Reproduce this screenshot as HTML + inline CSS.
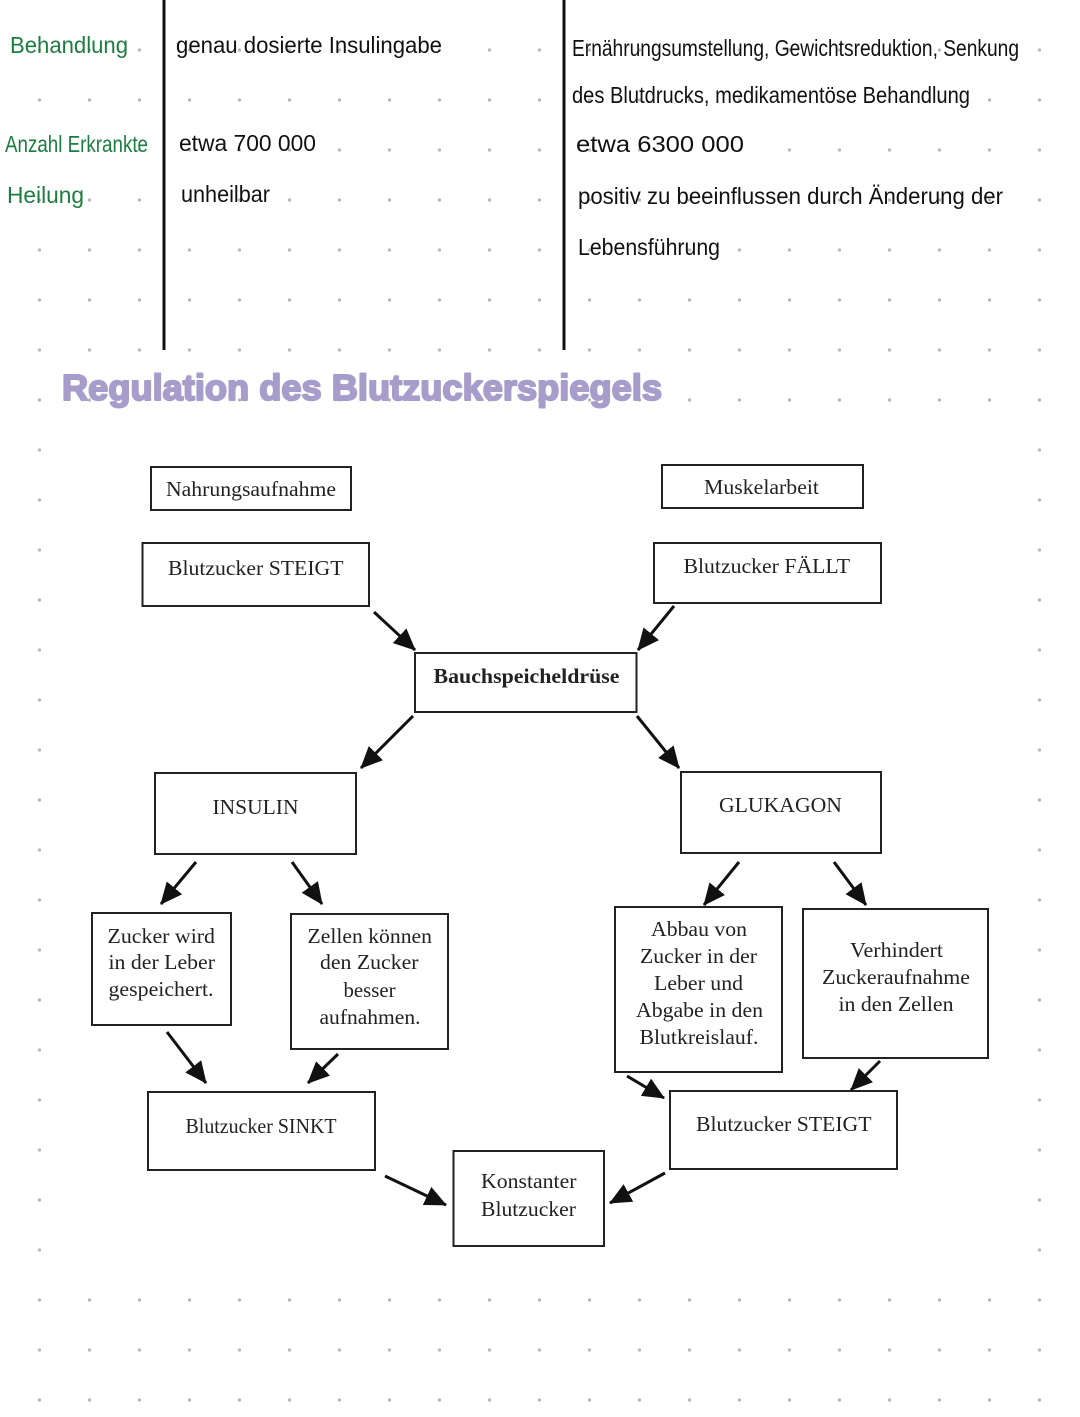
<!DOCTYPE html>
<html>
<head>
<meta charset="utf-8">
<style>
  html,body{margin:0;padding:0;background:#fff;}
  svg{display:block;}
  .hw{font-family:"Liberation Sans",sans-serif;font-size:23px;fill:#111;}
  .gr{fill:#1b7d40;}
  .bx{fill:#fff;stroke:#222;stroke-width:2;}
  .tx{font-family:"Liberation Serif",serif;font-size:21px;fill:#222;}
  .ar{stroke:#111;stroke-width:3;fill:none;}
</style>
</head>
<body>
<svg width="1080" height="1417" viewBox="0 0 1080 1417" xmlns="http://www.w3.org/2000/svg">
  <defs>
    <pattern id="dots" x="14.5" y="25" width="50" height="50" patternUnits="userSpaceOnUse">
      <circle cx="25" cy="25" r="1.6" fill="#b5b5b5"/>
    </pattern>
    <marker id="ah" markerUnits="userSpaceOnUse" markerWidth="22" markerHeight="20" refX="21" refY="10" orient="auto">
      <path d="M0,0 L22,10 L0,20 z" fill="#111"/>
    </marker>
  </defs>

  <rect x="0" y="0" width="1080" height="1417" fill="#fff"/>
  <rect x="0" y="0" width="1080" height="1417" fill="url(#dots)"/>
  <rect x="0" y="0" width="1080" height="20" fill="#fff"/>
  <!-- pasted diagram area (white) -->
  <rect x="52" y="422" width="976" height="860" fill="#fff"/>

  <!-- table lines -->
  <rect x="162.5" y="0" width="3" height="350" fill="#111"/>
  <rect x="562.5" y="0" width="3" height="350" fill="#111"/>

  <!-- handwritten table -->
  <text class="hw gr" x="10" y="53" textLength="118" lengthAdjust="spacingAndGlyphs">Behandlung</text>
  <text class="hw gr" x="5" y="152" textLength="143" lengthAdjust="spacingAndGlyphs">Anzahl Erkrankte</text>
  <text class="hw gr" x="7" y="203" textLength="77" lengthAdjust="spacingAndGlyphs">Heilung</text>

  <text class="hw" x="176" y="53" textLength="266" lengthAdjust="spacingAndGlyphs">genau dosierte Insulingabe</text>
  <text class="hw" x="179" y="151" textLength="137" lengthAdjust="spacingAndGlyphs">etwa 700 000</text>
  <text class="hw" x="181" y="202" textLength="89" lengthAdjust="spacingAndGlyphs">unheilbar</text>

  <text class="hw" x="572" y="56" textLength="447" lengthAdjust="spacingAndGlyphs">Ernährungsumstellung, Gewichtsreduktion, Senkung</text>
  <text class="hw" x="572" y="103" textLength="398" lengthAdjust="spacingAndGlyphs">des Blutdrucks, medikamentöse Behandlung</text>
  <text class="hw" x="576" y="152" textLength="168" lengthAdjust="spacingAndGlyphs">etwa 6300 000</text>
  <text class="hw" x="578" y="204" textLength="425" lengthAdjust="spacingAndGlyphs">positiv zu beeinflussen durch Änderung der</text>
  <text class="hw" x="578" y="255" textLength="142" lengthAdjust="spacingAndGlyphs">Lebensführung</text>

  <!-- title -->
  <text x="62" y="400" textLength="600" lengthAdjust="spacingAndGlyphs" font-family="Liberation Sans, sans-serif" font-weight="bold" font-size="36" fill="#a79dcb" stroke="#a79dcb" stroke-width="2" stroke-linejoin="round">Regulation des Blutzuckerspiegels</text>

  <!-- boxes -->
  <rect class="bx" x="151" y="467" width="200" height="43"/>
  <rect class="bx" x="142.5" y="543" width="226.5" height="63"/>
  <rect class="bx" x="415" y="653" width="221.5" height="59"/>
  <rect class="bx" x="662" y="465" width="201" height="43"/>
  <rect class="bx" x="654" y="543" width="227" height="60"/>
  <rect class="bx" x="155" y="773" width="201" height="81"/>
  <rect class="bx" x="681" y="772" width="200" height="81"/>
  <rect class="bx" x="92" y="913" width="139" height="112"/>
  <rect class="bx" x="291" y="914" width="157" height="135"/>
  <rect class="bx" x="615" y="907" width="167" height="165"/>
  <rect class="bx" x="803" y="909" width="185" height="149"/>
  <rect class="bx" x="670" y="1091" width="227" height="78"/>
  <rect class="bx" x="148" y="1092" width="227" height="78"/>
  <rect class="bx" x="453.5" y="1151" width="150.5" height="95"/>

  <!-- box texts -->
  <text class="tx" x="166" y="496" textLength="170" lengthAdjust="spacingAndGlyphs">Nahrungsaufnahme</text>
  <text class="tx" x="168" y="575" textLength="175.5" lengthAdjust="spacingAndGlyphs">Blutzucker STEIGT</text>
  <text class="tx" x="433.5" y="683" textLength="186" lengthAdjust="spacingAndGlyphs" font-weight="bold">Bauchspeicheldrüse</text>
  <text class="tx" x="704" y="494" textLength="115" lengthAdjust="spacingAndGlyphs">Muskelarbeit</text>
  <text class="tx" x="683.5" y="573" textLength="166.5" lengthAdjust="spacingAndGlyphs">Blutzucker FÄLLT</text>
  <text class="tx" x="212.5" y="814" textLength="86" lengthAdjust="spacingAndGlyphs">INSULIN</text>
  <text class="tx" x="719" y="812" textLength="123" lengthAdjust="spacingAndGlyphs">GLUKAGON</text>

  <text class="tx" x="107.5" y="943" textLength="107.5" lengthAdjust="spacingAndGlyphs">Zucker wird</text>
  <text class="tx" x="108.5" y="969" textLength="106.5" lengthAdjust="spacingAndGlyphs">in der Leber</text>
  <text class="tx" x="108.5" y="996" textLength="105" lengthAdjust="spacingAndGlyphs">gespeichert.</text>

  <text class="tx" x="307.5" y="943" textLength="124.5" lengthAdjust="spacingAndGlyphs">Zellen können</text>
  <text class="tx" x="320" y="969" textLength="98.5" lengthAdjust="spacingAndGlyphs">den Zucker</text>
  <text class="tx" x="343.5" y="997" textLength="52" lengthAdjust="spacingAndGlyphs">besser</text>
  <text class="tx" x="319.5" y="1024" textLength="101" lengthAdjust="spacingAndGlyphs">aufnahmen.</text>

  <text class="tx" x="651" y="936" textLength="96" lengthAdjust="spacingAndGlyphs">Abbau von</text>
  <text class="tx" x="640" y="963" textLength="117" lengthAdjust="spacingAndGlyphs">Zucker in der</text>
  <text class="tx" x="654" y="990" textLength="89" lengthAdjust="spacingAndGlyphs">Leber und</text>
  <text class="tx" x="636" y="1017" textLength="127" lengthAdjust="spacingAndGlyphs">Abgabe in den</text>
  <text class="tx" x="639.5" y="1044" textLength="119" lengthAdjust="spacingAndGlyphs">Blutkreislauf.</text>

  <text class="tx" x="850" y="957" textLength="93" lengthAdjust="spacingAndGlyphs">Verhindert</text>
  <text class="tx" x="822" y="984" textLength="148" lengthAdjust="spacingAndGlyphs">Zuckeraufnahme</text>
  <text class="tx" x="838.5" y="1011" textLength="115" lengthAdjust="spacingAndGlyphs">in den Zellen</text>

  <text class="tx" x="696" y="1131" textLength="175.5" lengthAdjust="spacingAndGlyphs">Blutzucker STEIGT</text>
  <text class="tx" x="185.5" y="1133" textLength="151" lengthAdjust="spacingAndGlyphs">Blutzucker SINKT</text>
  <text class="tx" x="481" y="1188" textLength="95.5" lengthAdjust="spacingAndGlyphs">Konstanter</text>
  <text class="tx" x="481" y="1216" textLength="95" lengthAdjust="spacingAndGlyphs">Blutzucker</text>

  <!-- arrows -->
  <line class="ar" x1="374" y1="612" x2="415" y2="650" marker-end="url(#ah)"/>
  <line class="ar" x1="674" y1="606" x2="638" y2="650" marker-end="url(#ah)"/>
  <line class="ar" x1="413" y1="716" x2="361" y2="768" marker-end="url(#ah)"/>
  <line class="ar" x1="637" y1="716" x2="679" y2="768" marker-end="url(#ah)"/>
  <line class="ar" x1="196" y1="862" x2="161" y2="904" marker-end="url(#ah)"/>
  <line class="ar" x1="292" y1="862" x2="322" y2="904" marker-end="url(#ah)"/>
  <line class="ar" x1="739" y1="862" x2="704" y2="905" marker-end="url(#ah)"/>
  <line class="ar" x1="834" y1="862" x2="866" y2="905" marker-end="url(#ah)"/>
  <line class="ar" x1="167" y1="1032" x2="206" y2="1083" marker-end="url(#ah)"/>
  <line class="ar" x1="338" y1="1054" x2="308" y2="1083" marker-end="url(#ah)"/>
  <line class="ar" x1="627" y1="1076" x2="664" y2="1098" marker-end="url(#ah)"/>
  <line class="ar" x1="880" y1="1061" x2="851" y2="1090" marker-end="url(#ah)"/>
  <line class="ar" x1="385" y1="1176" x2="446" y2="1205" marker-end="url(#ah)"/>
  <line class="ar" x1="665" y1="1173" x2="610" y2="1203" marker-end="url(#ah)"/>
</svg>
</body>
</html>
